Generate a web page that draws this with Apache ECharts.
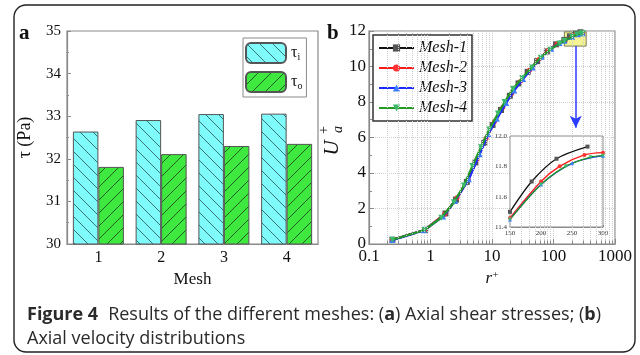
<!DOCTYPE html>
<html><head><meta charset="utf-8">
<script src="https://cdn.jsdelivr.net/npm/echarts@6/dist/echarts.min.js"></script>
<style>html,body{margin:0;padding:0;background:#fff}#c{width:640px;height:355px}</style>
</head><body><div id="c"></div>
<script>
// ---- data (a) ----
const meshes = ['1', '2', '3', '4'];
const tauI = [32.64, 32.91, 33.05, 33.06];
const tauO = [31.81, 32.11, 32.30, 32.35];
// ---- data (b) ----
const mesh1R = [0.24, 0.82, 1.75, 2.6, 3.9, 5.4, 7.5, 10.2, 14, 19.5, 27, 38, 54, 78, 110, 150, 185, 225, 275];
const mesh1U = [0.24, 0.8, 1.72, 2.5, 3.5, 4.6, 5.7, 6.7, 7.55, 8.35, 9.05, 9.7, 10.3, 10.85, 11.25, 11.5, 11.7, 11.85, 11.93];
const mesh2R = [0.24, 0.8, 1.7, 2.7, 4.1, 5.7, 8.0, 11, 15, 21, 29, 41, 58, 82, 115, 150, 200, 230, 270, 300];
const mesh2U = [0.24, 0.79, 1.68, 2.6, 3.62, 4.75, 5.95, 6.9, 7.7, 8.5, 9.15, 9.8, 10.4, 10.9, 11.27, 11.46, 11.7, 11.8, 11.875, 11.89];
const mesh3R = [0.24, 0.78, 1.6, 2.5, 4.2, 6.3, 8.7, 12, 17, 23, 32, 46, 65, 92, 125, 150, 200, 250, 300];
const mesh3U = [0.22, 0.77, 1.55, 2.42, 3.65, 5.05, 6.2, 7.05, 7.95, 8.65, 9.3, 9.95, 10.55, 11.0, 11.32, 11.45, 11.68, 11.82, 11.87];
const mesh4R = [0.24, 0.8, 1.5, 2.4, 3.5, 4.8, 6.6, 9, 12.5, 16, 22, 31, 44, 62, 88, 125, 150, 200, 240, 280, 300];
const mesh4U = [0.24, 0.79, 1.48, 2.35, 3.3, 4.4, 5.45, 6.45, 7.35, 8.0, 8.75, 9.35, 9.95, 10.5, 10.95, 11.3, 11.45, 11.68, 11.8, 11.86, 11.87];
const meshNames = ['Mesh-1', 'Mesh-2', 'Mesh-3', 'Mesh-4'];
const minorLog = [0.2,0.3,0.4,0.5,0.6,0.7,0.8,0.9,2,3,4,5,6,7,8,9,20,30,40,50,60,70,80,90,200,300,400,500,600,700,800,900];

const SERIF = '"Liberation Serif", "DejaVu Serif", serif';
const zip = (a, b) => a.map((v, i) => [v, b[i]]);

function hatch(bg, line, dir) {
  const s = 13, c = document.createElement('canvas');
  c.width = s; c.height = s;
  const g = c.getContext('2d');
  g.fillStyle = bg; g.fillRect(0, 0, s, s);
  g.strokeStyle = line; g.lineWidth = 0.9;
  g.beginPath();
  if (dir === '\\') {
    g.moveTo(0, 0); g.lineTo(s, s);
    g.moveTo(-2, s - 2); g.lineTo(2, s + 2);
    g.moveTo(s - 2, -2); g.lineTo(s + 2, 2);
  } else {
    g.moveTo(0, s); g.lineTo(s, 0);
    g.moveTo(-2, 2); g.lineTo(2, -2);
    g.moveTo(s - 2, s + 2); g.lineTo(s + 2, s - 2);
  }
  g.stroke();
  return { image: c, repeat: 'repeat' };
}

const lineColors = ['#111111', '#ff1a1a', '#1a2cff', '#239a23'];
const symColors = ['#555555', '#ff3333', '#3a7bff', '#3cb86a'];
const symbols = ['rect', 'circle', 'triangle', 'triangle'];
const rots = [0, 0, 0, 180];
const meshData = [zip(mesh1R, mesh1U), zip(mesh2R, mesh2U), zip(mesh3R, mesh3U), zip(mesh4R, mesh4U)];

const chart = echarts.init(document.getElementById('c'), null, { renderer: 'canvas' });

const series = [
  { type: 'bar', name: 'τi', xAxisIndex: 0, yAxisIndex: 0, data: tauI, barWidth: 25.5, barGap: '0%',
    itemStyle: { color: hatch('#80fbfb', '#2f6464', '\\'), borderColor: '#555', borderWidth: 1 } },
  { type: 'bar', name: 'τo', xAxisIndex: 0, yAxisIndex: 0, data: tauO, barWidth: 25.5, barGap: '0%',
    itemStyle: { color: hatch('#3ee83e', '#1c4f1c', '/'), borderColor: '#555', borderWidth: 1 } },
  { type: 'line', name: 'gridlines', xAxisIndex: 1, yAxisIndex: 1, data: [], z: 0, silent: true,
    markLine: { silent: true, symbol: 'none', label: { show: false }, animation: false,
      lineStyle: { color: '#cdcdcd', type: 'dotted', width: 1 },
      data: minorLog.map(v => ({ xAxis: v }))
        .concat(minorLog.map(v => [{ coord: [v, 0], lineStyle: { type: 'solid', color: '#888' } }, { coord: [v, 0.2] }])) } }
];
meshNames.forEach((n, i) => {
  series.push({ type: 'line', name: n, xAxisIndex: 1, yAxisIndex: 1, data: meshData[i], z: 2 + i * 0.1,
    symbol: symbols[i], symbolRotate: rots[i], symbolSize: i === 1 ? 5 : 6,
    lineStyle: { color: lineColors[i], width: 2.2 }, itemStyle: { color: symColors[i] }, color: lineColors[i] });
});
series.push({ type: 'line', name: 'annot', xAxisIndex: 1, yAxisIndex: 1, data: [], z: 6, silent: true,
  markArea: { silent: true, itemStyle: { color: 'rgba(238,238,110,0.72)', borderColor: '#7a7a55', borderWidth: 1 },
    data: [[{ coord: [150, 11.95] }, { coord: [340, 11.15] }]] },
  markLine: { silent: true, label: { show: false }, symbolSize: [9, 12], animation: false,
    lineStyle: { color: '#2a3cff', width: 1.5, type: 'solid' },
    data: [[{ coord: [230, 11.15], symbol: 'none' }, { coord: [230, 6.55], symbol: 'arrow' }]] } });
meshNames.forEach((n, i) => {
  series.push({ type: 'line', name: n, xAxisIndex: 2, yAxisIndex: 2, z: 8, smooth: 0.3,
    data: meshData[i].filter(p => p[0] >= 150),
    symbol: symbols[i], symbolRotate: rots[i], symbolSize: 4,
    lineStyle: { color: lineColors[i], width: 1.3 }, itemStyle: { color: symColors[i] } });
});

const axText = { fontFamily: SERIF, fontSize: 16, color: '#111' };
const frame = '#8a8a8a';

chart.setOption({
  animation: false,
  grid: [
    { left: 67, top: 31, width: 251, height: 213, show: true, borderColor: frame, borderWidth: 1.2 },
    { left: 369, top: 31, width: 246, height: 213, show: true, borderColor: frame, borderWidth: 1.2 },
    { left: 510, top: 136, width: 93, height: 91, show: true, borderColor: frame, borderWidth: 1, backgroundColor: '#fff', z: 1 }
  ],
  xAxis: [
    { type: 'category', gridIndex: 0, data: meshes,
      axisLine: { lineStyle: { color: frame, width: 1.2 } },
      axisTick: { inside: true, length: 3, lineStyle: { color: frame } },
      axisLabel: Object.assign({ margin: 6 }, axText),
      name: 'Mesh', nameLocation: 'middle', nameGap: 24, nameTextStyle: { fontFamily: SERIF, fontSize: 17, color: '#111' } },
    { type: 'log', gridIndex: 1, logBase: 10, min: 0.1, max: 1000,
      axisLine: { lineStyle: { color: frame, width: 1.2 } },
      axisTick: { inside: true, length: 5, lineStyle: { color: frame } },
      splitLine: { show: true, lineStyle: { color: '#cdcdcd', type: 'dotted' } },
      axisLabel: Object.assign({ margin: 4, formatter: v => (v < 1 ? (+v).toFixed(1) : String(Math.round(v))) }, axText, { fontSize: 17 }),
      name: '{r|r}{s|+}', nameLocation: 'middle', nameGap: 22,
      nameTextStyle: { rich: { r: { fontFamily: SERIF, fontStyle: 'italic', fontSize: 17, color: '#111' },
        s: { fontFamily: SERIF, fontSize: 11, color: '#111', verticalAlign: 'top', padding: [0, 0, 6, 0] } } } },
    { type: 'value', gridIndex: 2, min: 150, max: 300, interval: 50,
      axisLine: { lineStyle: { color: frame } },
      axisTick: { inside: true, length: 2, lineStyle: { color: frame } },
      splitLine: { show: false },
      axisLabel: { fontFamily: SERIF, fontSize: 7, color: '#333', margin: 3 } }
  ],
  yAxis: [
    { type: 'value', gridIndex: 0, min: 30, max: 35, interval: 1,
      axisLine: { show: true, lineStyle: { color: frame, width: 1.2 } },
      axisTick: { show: true, inside: true, length: 4, lineStyle: { color: frame } },
      minorTick: { show: true, splitNumber: 2, length: 2, lineStyle: { color: frame } },
      splitLine: { show: false },
      axisLabel: Object.assign({ margin: 6 }, axText, { fontSize: 15 }),
      name: 'τ (Pa)', nameLocation: 'middle', nameRotate: 90, nameGap: 33,
      nameTextStyle: { fontFamily: SERIF, fontSize: 18, color: '#111' } },
    { type: 'value', gridIndex: 1, min: 0, max: 12, interval: 2,
      axisLine: { show: true, lineStyle: { color: frame, width: 1.2 } },
      axisTick: { show: true, inside: true, length: 5, lineStyle: { color: frame } },
      minorTick: { show: true, splitNumber: 2, length: 3, lineStyle: { color: frame } },
      splitLine: { show: true, lineStyle: { color: '#cdcdcd', type: 'dotted' } },
      axisLabel: Object.assign({ margin: 3 }, axText, { fontSize: 17 }) },
    { type: 'value', gridIndex: 2, min: 11.4, max: 12.0, interval: 0.2,
      axisLine: { show: true, lineStyle: { color: frame } },
      axisTick: { show: true, inside: true, length: 2, lineStyle: { color: frame } },
      splitLine: { show: false },
      axisLabel: { fontFamily: SERIF, fontSize: 7, color: '#333', margin: 3, formatter: v => (+v).toFixed(1) } }
  ],
  legend: [
    { data: ['τi', 'τo'], orient: 'vertical', left: 243, top: 38, itemWidth: 40, itemHeight: 20, itemGap: 7,
      padding: [4, 4, 4, 2], borderColor: frame, borderWidth: 1, backgroundColor: '#fff',
      selectedMode: false,
      formatter: n => (n === 'τi' ? '{t|τ}{s|i}' : '{t|τ}{s|o}'),
      textStyle: { rich: { t: { fontFamily: SERIF, fontSize: 16, color: '#111' },
        s: { fontFamily: SERIF, fontSize: 10, color: '#111', padding: [8, 0, 0, 0] } } } },
    { data: meshNames, orient: 'vertical', left: 373, top: 35, itemWidth: 35, itemHeight: 9, itemGap: 2,
      padding: [4, 5, 4, 5], borderColor: '#333', borderWidth: 1.5, backgroundColor: '#fff',
      selectedMode: false,
      textStyle: { fontFamily: SERIF, fontStyle: 'italic', fontSize: 16, lineHeight: 18, color: '#111' } }
  ],
  title: {
    left: 22, top: 298,
    text: '{b|Figure 4}  {n|Results of the different meshes: (}{b|a}{n|) Axial shear stresses; (}{b|b}{n|)}\n{n|Axial velocity distributions}',
    textStyle: { fontWeight: 'normal', rich: {
      b: { fontFamily: 'Open Sans', fontSize: 18, fontWeight: 'bold', color: '#2a2a2a', lineHeight: 24 },
      n: { fontFamily: 'Open Sans', fontSize: 18, fontWeight: 'normal', color: '#2a2a2a', lineHeight: 24 } } }
  },
  graphic: [
    { type: 'rect', shape: { x: 14, y: 5, width: 621, height: 347, r: 12 }, style: { fill: 'none', stroke: '#222', lineWidth: 1.4 }, silent: true, z: 100 },
    { type: 'text', x: 19, y: 23, style: { text: 'a', font: 'bold 21px "Liberation Serif"', fill: '#111' }, z: 100 },
    { type: 'text', x: 327, y: 23, style: { text: 'b', font: 'bold 21px "Liberation Serif"', fill: '#111' }, z: 100 },
    { type: 'group', x: 333, y: 138, rotation: Math.PI / 2, z: 100, children: [
      { type: 'text', x: -10, y: -1, style: { text: 'U', font: 'italic 21px "Liberation Serif"', fill: '#111', align: 'center', verticalAlign: 'middle' } },
      { type: 'text', x: 5, y: 5, style: { text: 'a', font: 'italic 14px "Liberation Serif"', fill: '#111', align: 'left', verticalAlign: 'middle' } },
      { type: 'text', x: 4, y: -9, style: { text: '+', font: '14px "Liberation Serif"', fill: '#111', align: 'left', verticalAlign: 'middle' } }
    ] }
  ],
  series: series
});
</script></body></html>
